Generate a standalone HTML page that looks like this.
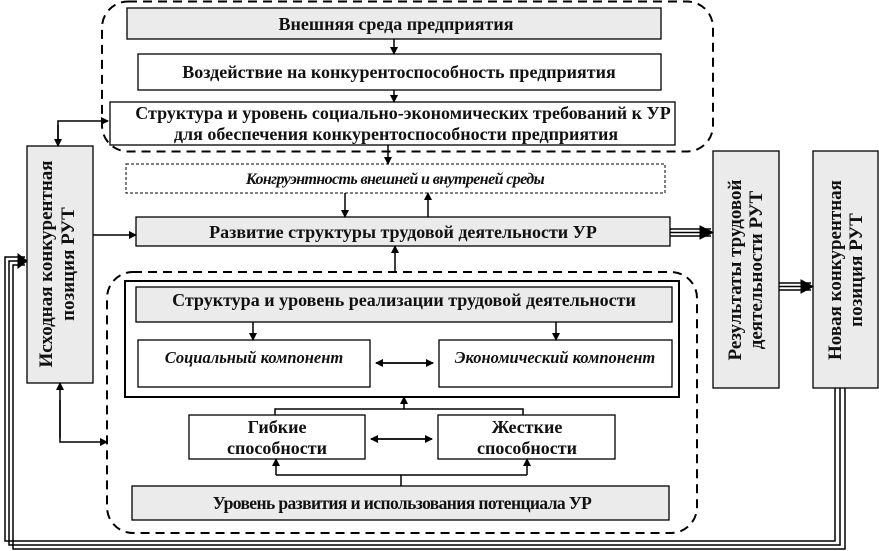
<!DOCTYPE html>
<html><head><meta charset="utf-8"><style>
html,body{margin:0;padding:0;background:#fff;}
svg{display:block;}
text{font-family:"Liberation Serif",serif;font-weight:bold;fill:#111;}
</style></head><body>
<svg width="879" height="551" viewBox="0 0 879 551" xmlns="http://www.w3.org/2000/svg">
<defs>
<marker id="a" markerWidth="8" markerHeight="8" refX="7" refY="4" orient="auto" markerUnits="userSpaceOnUse"><path d="M0,0 L8,4 L0,8 z" fill="#000"/></marker>
</defs>
<g stroke="#000" fill="none">
<rect x="102" y="1.5" width="611" height="150" rx="26" stroke-width="2" stroke-dasharray="9,6"/>
<rect x="107" y="272" width="590" height="261" rx="26" stroke-width="2" stroke-dasharray="9,6"/>
<rect x="127" y="8" width="534" height="31" fill="#ebebeb" stroke-width="1.3"/>
<rect x="138" y="54" width="523" height="36" fill="#fff" stroke-width="1.3"/>
<rect x="110" y="102" width="565" height="43" fill="#fff" stroke-width="1.3"/>
<rect x="126" y="164" width="539" height="29" fill="#fff" stroke-width="1" stroke-dasharray="3,2"/>
<rect x="136" y="217" width="534" height="29" fill="#ebebeb" stroke-width="1.3"/>
<rect x="27" y="146" width="66" height="237" fill="#ebebeb" stroke-width="1.3"/>
<rect x="713" y="151" width="66" height="237" fill="#ebebeb" stroke-width="1.3"/>
<rect x="813" y="151" width="65" height="237" fill="#ebebeb" stroke-width="1.3"/>
<rect x="125" y="281" width="554" height="116" stroke-width="2"/>
<rect x="136" y="287" width="536" height="35" fill="#ebebeb" stroke-width="1.3"/>
<rect x="138" y="340" width="232" height="47" fill="#fff" stroke-width="1.3"/>
<rect x="439" y="340" width="233" height="47" fill="#fff" stroke-width="1.3"/>
<rect x="189" y="415" width="176" height="44" fill="#fff" stroke-width="1.3"/>
<rect x="438" y="415" width="177" height="44" fill="#fff" stroke-width="1.3"/>
<rect x="132" y="486" width="537" height="34" fill="#ebebeb" stroke-width="1.3"/>
<g stroke-width="1.5">
<line x1="394" y1="39" x2="394" y2="54" marker-end="url(#a)"/>
<line x1="394" y1="90" x2="394" y2="102" marker-end="url(#a)"/>
<line x1="388" y1="145" x2="388" y2="164" marker-end="url(#a)"/>
<line x1="345" y1="193" x2="345" y2="217" marker-end="url(#a)"/>
<line x1="428" y1="217" x2="428" y2="193" marker-end="url(#a)"/>
<line x1="395" y1="272" x2="395" y2="246" marker-end="url(#a)"/>
<line x1="253" y1="322" x2="253" y2="340" marker-end="url(#a)"/>
<line x1="556" y1="322" x2="556" y2="340" marker-end="url(#a)"/>
<line x1="376" y1="363" x2="433" y2="363" marker-end="url(#a)"/>
<line x1="433" y1="363" x2="376" y2="363" marker-end="url(#a)"/>
<line x1="371" y1="439" x2="432" y2="439" marker-end="url(#a)"/>
<line x1="432" y1="439" x2="371" y2="439" marker-end="url(#a)"/>
<polyline points="275,415 275,409 523,409 523,415"/>
<line x1="404" y1="409" x2="404" y2="397" marker-end="url(#a)"/>
<line x1="401" y1="486" x2="401" y2="475"/>
<polyline points="276,475 527,475"/>
<line x1="276" y1="475" x2="276" y2="459" marker-end="url(#a)"/>
<line x1="527" y1="475" x2="527" y2="459" marker-end="url(#a)"/>
<polyline points="58,146 58,121 108,121" marker-end="url(#a)"/>
<line x1="58" y1="125" x2="58" y2="146" marker-end="url(#a)"/>
<line x1="60" y1="438" x2="60" y2="383" marker-end="url(#a)"/>
<polyline points="60,400 60,442 107,442" marker-end="url(#a)"/>
<line x1="93" y1="235" x2="136" y2="235" marker-end="url(#a)"/>
</g>
<g stroke-width="1.5">
<line x1="670" y1="229" x2="711" y2="229"/>
<line x1="670" y1="232.5" x2="711" y2="232.5"/>
<line x1="670" y1="236" x2="711" y2="236"/>
<line x1="779" y1="283" x2="811" y2="283"/>
<line x1="779" y1="286.5" x2="811" y2="286.5"/>
<line x1="779" y1="290" x2="811" y2="290"/>
<polyline points="835,388 835,541 5,541 5,257 25,257"/>
<polyline points="840,388 840,545 9,545 9,261 25,261"/>
<polyline points="845,388 845,549 13,549 13,265 25,265"/>
</g>
<path d="M700,226 L713,232.5 L700,239 z" fill="#000"/>
<path d="M801,280 L813,286.5 L801,293 z" fill="#000"/>
<path d="M18,254 L27,261 L18,268 z" fill="#000"/>
</g>
<g font-size="18" text-anchor="middle">
<text x="396" y="30">Внешняя среда предприятия</text>
<text x="399" y="78">Воздействие на конкурентоспособность предприятия</text>
<text x="403" y="119">Структура и уровень социально-экономических требований к УР</text>
<text x="396" y="140">для обеспечения конкурентоспособности предприятия</text>
<text x="395" y="184" font-size="16" font-style="italic" letter-spacing="-0.6">Конгруэнтность внешней и внутреней среды</text>
<text x="403" y="238">Развитие структуры трудовой деятельности УР</text>
<text x="404" y="306">Структура и уровень реализации трудовой деятельности</text>
<text x="254" y="363" font-size="16.5" font-style="italic">Социальный компонент</text>
<text x="555" y="363" font-size="16.5" font-style="italic">Экономический компонент</text>
<text x="277" y="433">Гибкие</text>
<text x="277" y="454">способности</text>
<text x="527" y="433">Жесткие</text>
<text x="527" y="454">способности</text>
<text x="402" y="509" font-size="17.5" letter-spacing="-0.6">Уровень развития и использования потенциала УР</text>
<text transform="translate(52,264) rotate(-90)" font-size="19">Исходная конкурентная</text>
<text transform="translate(74,264) rotate(-90)" font-size="19">позиция РУТ</text>
<text transform="translate(741,270) rotate(-90)" font-size="19">Результаты трудовой</text>
<text transform="translate(762,270) rotate(-90)" font-size="19">деятельности РУТ</text>
<text transform="translate(841,270) rotate(-90)" font-size="19">Новая конкурентная</text>
<text transform="translate(862,270) rotate(-90)" font-size="19">позиция РУТ</text>
</g>
</svg>
</body></html>
